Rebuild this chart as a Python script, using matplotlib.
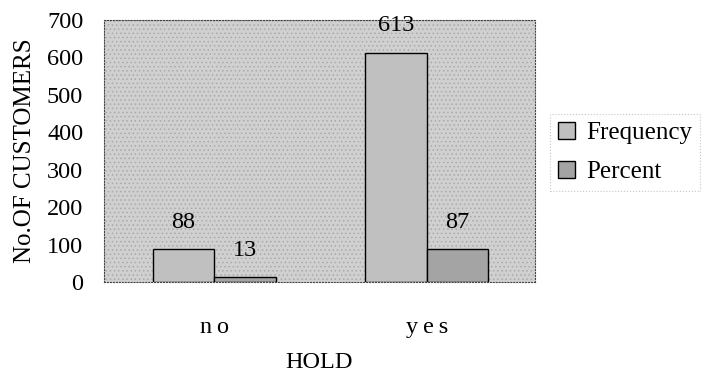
import matplotlib.pyplot as plt
import numpy as np

plt.rcParams['font.family'] = ['Liberation Serif', 'DejaVu Serif']
plt.rcParams['hatch.linewidth'] = 0.6

categorias = ['n\u2009o', 'y\u2009e\u2009s']
frecuencia = [88, 613]
porcentaje = [13, 87]

fig = plt.figure(figsize=(7.04, 3.72), dpi=100)
ax = fig.add_axes([104 / 704, 1 - 282 / 372, 431 / 704, 262 / 372])

x = np.arange(len(categorias))
ancho = 0.29

# fondo gris punteado del area de trazado
ax.set_facecolor('#d0d0d0')
fondo = plt.Rectangle((0, 0), 1, 1, transform=ax.transAxes, facecolor='none',
                      edgecolor='#aaaaaa', hatch='....', linewidth=0, zorder=0)
ax.add_patch(fondo)

b1 = ax.bar(x - ancho / 2, frecuencia, ancho, color='#c0c0c0', edgecolor='black',
            linewidth=1.0, label='Frequency', zorder=2)
b2 = ax.bar(x + ancho / 2, porcentaje, ancho, color='#a4a4a4', edgecolor='black',
            linewidth=1.0, label='Percent', zorder=2)

# etiquetas de valor sobre cada barra
for barras, valores in ((b1, frecuencia), (b2, porcentaje)):
    for b, v in zip(barras, valores):
        ax.text(b.get_x() + b.get_width() / 2, v + 44, str(v), ha='center', va='bottom',
                fontsize=17.5, zorder=3)

ax.set_xlim(-0.52, 1.51)
ax.set_ylim(0, 700)
ax.set_yticks(range(0, 701, 100))
ax.set_xticks(x)
ax.set_xticklabels(categorias, fontsize=17.5)
ax.tick_params(axis='both', length=0, labelsize=17.5)
ax.tick_params(axis='x', pad=25)
ax.tick_params(axis='y', pad=15)

for s in ax.spines.values():
    s.set_linestyle(':')
    s.set_linewidth(0.8)
    s.set_color('#444444')

ax.set_ylabel('No.OF CUSTOMERS', fontsize=18, labelpad=8)
ax.set_xlabel('HOLD', fontsize=17.5, labelpad=10)

leg = ax.legend(loc='upper left', bbox_to_anchor=(1.035, 0.64), fontsize=18, frameon=True,
                fancybox=False, handlelength=0.7, handleheight=0.7, handletextpad=0.45,
                borderpad=0.3, labelspacing=0.65, borderaxespad=0)
leg.get_frame().set_edgecolor('#b8b8b8')
leg.get_frame().set_linestyle(':')
leg.get_frame().set_linewidth(0.8)

plt.savefig('out.png', dpi=100)
